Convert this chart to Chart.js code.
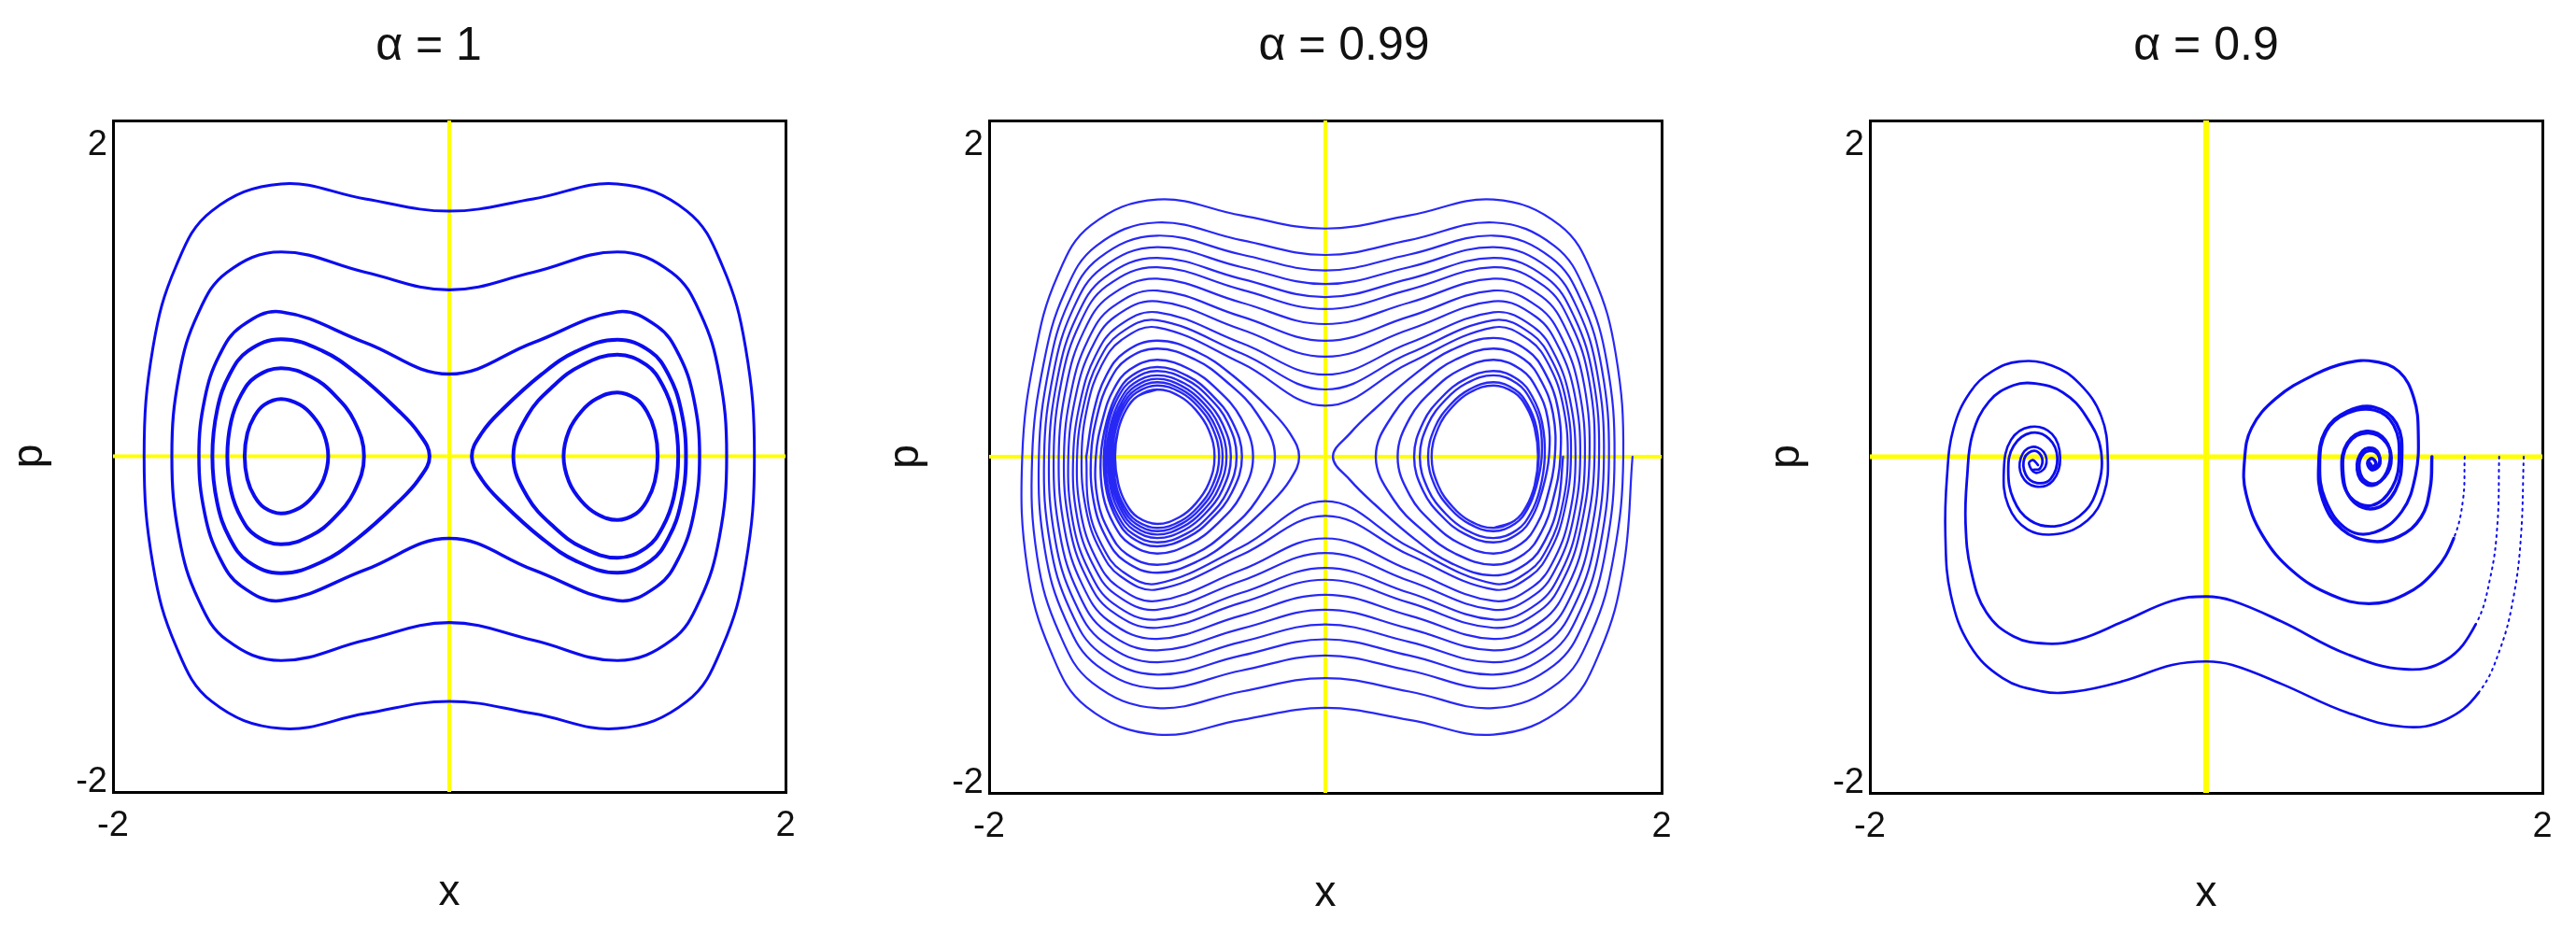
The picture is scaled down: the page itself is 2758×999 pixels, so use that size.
<!DOCTYPE html>
<html>
<head>
<meta charset="utf-8">
<script src="https://cdn.jsdelivr.net/npm/chart.js@4.4.0/dist/chart.umd.min.js"></script>
<style>
html,body{margin:0;padding:0;background:#fff;overflow:hidden;width:2758px;height:999px;}
canvas{position:absolute;top:0;}
</style>
</head>
<body>
<canvas id="c1" width="913" height="999" style="left:0px"></canvas>
<canvas id="c2" width="1015" height="999" style="left:920px"></canvas>
<canvas id="c3" width="872" height="999" style="left:1886px"></canvas>
<script>
// ---------------- data ----------------
const panelTitles = ['α = 1', 'α = 0.99', 'α = 0.9'];
const xAxisLabel = 'x';
const yAxisLabel = 'p';
const xTickValues = [-2, 2];
const xTickText = ['-2', '2'];
const yTickValues = [-1.94, 1.85];
const yTickText = ['-2', '2'];
const zeroLineX = [[0, -2], [0, 2]];
const zeroLineP = [[-2, 0], [2, 0]];

// alpha = 1 : closed orbits (x, p)
const a1_outer1 = [[0,1.46],[0.5,1.533],[1,1.622],[1.414,1.46],[1.624,1.135],[1.762,0.649],[1.815,0],[1.762,-0.649],[1.624,-1.135],[1.414,-1.46],[1,-1.622],[0.5,-1.533],[0,-1.46],[-0.5,-1.533],[-1,-1.622],[-1.414,-1.46],[-1.624,-1.135],[-1.762,-0.649],[-1.815,0],[-1.762,0.649],[-1.624,1.135],[-1.414,1.46],[-1,1.622],[-0.5,1.533]];
const a1_outer2 = [[0,0.991],[0.5,1.096],[1,1.217],[1.323,1.095],[1.493,0.852],[1.606,0.487],[1.65,0],[1.606,-0.487],[1.493,-0.852],[1.323,-1.095],[1,-1.217],[0.5,-1.096],[0,-0.991],[-0.5,-1.096],[-1,-1.217],[-1.323,-1.095],[-1.493,-0.852],[-1.606,-0.487],[-1.65,0],[-1.606,0.487],[-1.493,0.852],[-1.323,1.095],[-1,1.217],[-0.5,1.096]];
const a1_outer3 = [[0,0.49],[0.5,0.677],[1,0.86],[1.237,0.774],[1.367,0.602],[1.454,0.344],[1.489,0],[1.454,-0.344],[1.367,-0.602],[1.237,-0.774],[1,-0.86],[0.5,-0.677],[0,-0.49],[-0.5,-0.677],[-1,-0.86],[-1.237,-0.774],[-1.367,-0.602],[-1.454,-0.344],[-1.489,0],[-1.454,0.344],[-1.367,0.602],[-1.237,0.774],[-1,0.86],[-0.5,0.677]];
const a1_left1 = [[-1,0.697],[-0.755,0.628],[-0.544,0.488],[-0.31,0.279],[-0.183,0.14],[-0.117,0],[-0.183,-0.14],[-0.31,-0.279],[-0.544,-0.488],[-0.755,-0.628],[-1,-0.697],[-1.196,-0.628],[-1.306,-0.488],[-1.38,-0.279],[-1.409,0],[-1.38,0.279],[-1.306,0.488],[-1.196,0.628]];
const a1_left2 = [[-1,0.525],[-0.822,0.473],[-0.685,0.368],[-0.565,0.21],[-0.507,0],[-0.565,-0.21],[-0.685,-0.368],[-0.822,-0.473],[-1,-0.525],[-1.151,-0.473],[-1.237,-0.368],[-1.297,-0.21],[-1.32,0],[-1.297,0.21],[-1.237,0.368],[-1.151,0.473]];
const a1_left3 = [[-1,0.341],[-0.889,0.307],[-0.81,0.238],[-0.747,0.136],[-0.72,0],[-0.747,-0.136],[-0.81,-0.238],[-0.889,-0.307],[-1,-0.341],[-1.1,-0.307],[-1.159,-0.238],[-1.201,-0.136],[-1.217,0],[-1.201,0.136],[-1.159,0.238],[-1.1,0.307]];
const a1_right1 = [[1,0.694],[1.195,0.625],[1.304,0.486],[1.378,0.278],[1.408,0],[1.378,-0.278],[1.304,-0.486],[1.195,-0.625],[1,-0.694],[0.756,-0.625],[0.547,-0.486],[0.316,-0.278],[0.194,-0.139],[0.134,0],[0.194,0.139],[0.316,0.278],[0.547,0.486],[0.756,0.625]];
const a1_right2 = [[1,0.605],[1.172,0.544],[1.269,0.423],[1.336,0.242],[1.362,0],[1.336,-0.242],[1.269,-0.423],[1.172,-0.544],[1,-0.605],[0.792,-0.544],[0.624,-0.423],[0.465,-0.242],[0.381,0],[0.465,0.242],[0.624,0.423],[0.792,0.544]];
const a1_right3 = [[1,0.38],[1.111,0.342],[1.176,0.266],[1.222,0.152],[1.24,0],[1.222,-0.152],[1.176,-0.266],[1.111,-0.342],[1,-0.38],[0.875,-0.342],[0.785,-0.266],[0.712,-0.152],[0.68,0],[0.712,0.152],[0.785,0.266],[0.875,0.342]];

// alpha = 0.99 : slowly decaying trajectories
const a099_outer = [[1.827,0],
[1.773,-0.661],[1.634,-1.157],[1.421,-1.488],[1,-1.653],[0.5,-1.566],[0,-1.494],[-0.5,-1.566],[-1,-1.653],[-1.421,-1.488],[-1.634,-1.157],[-1.773,-0.661],[-1.803,0],
[-1.727,0.612],[-1.595,1.071],[-1.394,1.377],[-1,1.53],[-0.5,1.435],[0,1.357],[0.5,1.435],[1,1.53],[1.394,1.377],[1.595,1.071],[1.727,0.612],[1.772,0],
[1.714,-0.598],[1.584,-1.046],[1.386,-1.345],[1,-1.495],[0.5,-1.397],[0,-1.317],[-0.5,-1.397],[-1,-1.495],[-1.386,-1.345],[-1.584,-1.046],[-1.714,-0.598],[-1.744,0],
[-1.675,0.557],[-1.551,0.975],[-1.363,1.254],[-1,1.393],[-0.5,1.288],[0,1.2],[0.5,1.288],[1,1.393],[1.363,1.254],[1.551,0.975],[1.675,0.557],[1.72,0],
[1.669,-0.551],[1.547,-0.965],[1.36,-1.241],[1,-1.378],[0.5,-1.272],[0,-1.183],[-0.5,-1.272],[-1,-1.378],[-1.36,-1.241],[-1.547,-0.965],[-1.669,-0.551],[-1.704,0],
[-1.644,0.526],[-1.526,0.92],[-1.345,1.183],[-1,1.315],[-0.5,1.203],[0,1.108],[0.5,1.203],[1,1.315],[1.345,1.183],[1.526,0.92],[1.644,0.526],[1.687,0],
[1.637,-0.518],[1.52,-0.907],[1.341,-1.167],[1,-1.296],[0.5,-1.183],[0,-1.086],[-0.5,-1.183],[-1,-1.296],[-1.341,-1.167],[-1.52,-0.907],[-1.637,-0.518],[-1.673,0],
[-1.617,0.499],[-1.503,0.873],[-1.33,1.122],[-1,1.247],[-0.5,1.128],[0,1.027],[0.5,1.128],[1,1.247],[1.33,1.122],[1.503,0.873],[1.617,0.499],[1.657,0],
[1.608,-0.489],[1.495,-0.856],[1.324,-1.101],[1,-1.223],[0.5,-1.102],[0,-0.998],[-0.5,-1.102],[-1,-1.223],[-1.324,-1.101],[-1.495,-0.856],[-1.608,-0.489],[-1.644,0],
[-1.592,0.473],[-1.482,0.828],[-1.315,1.065],[-1,1.183],[-0.5,1.058],[0,0.949],[0.5,1.058],[1,1.183],[1.315,1.065],[1.482,0.828],[1.592,0.473],[1.628,0],
[1.579,-0.461],[1.471,-0.807],[1.308,-1.037],[1,-1.152],[0.5,-1.023],[0,-0.91],[-0.5,-1.023],[-1,-1.152],[-1.308,-1.037],[-1.471,-0.807],[-1.579,-0.461],[-1.616,0],
[-1.569,0.451],[-1.462,0.789],[-1.302,1.014],[-1,1.127],[-0.5,0.994],[0,0.878],[0.5,0.994],[1,1.127],[1.302,1.014],[1.462,0.789],[1.569,0.451],[1.601,0],
[1.551,-0.433],[1.447,-0.759],[1.291,-0.975],[1,-1.084],[0.5,-0.945],[0,-0.821],[-0.5,-0.945],[-1,-1.084],[-1.291,-0.975],[-1.447,-0.759],[-1.551,-0.433],[-1.586,0],
[-1.54,0.424],[-1.439,0.741],[-1.286,0.953],[-1,1.059],[-0.5,0.917],[0,0.789],[0.5,0.917],[1,1.059],[1.286,0.953],[1.439,0.741],[1.54,0.424],[1.571,0],
[1.523,-0.407],[1.424,-0.713],[1.276,-0.916],[1,-1.018],[0.5,-0.869],[0,-0.732],[-0.5,-0.869],[-1,-1.018],[-1.276,-0.916],[-1.424,-0.713],[-1.523,-0.407],[-1.555,0],
[-1.51,0.395],[-1.413,0.692],[-1.268,0.889],[-1,0.988],[-0.5,0.834],[0,0.69],[0.5,0.834],[1,0.988],[1.268,0.889],[1.413,0.692],[1.51,0.395],[1.544,0],
[1.502,-0.387],[1.406,-0.678],[1.264,-0.872],[1,-0.969],[0.5,-0.81],[0,-0.662],[-0.5,-0.81],[-1,-0.969],[-1.264,-0.872],[-1.406,-0.678],[-1.502,-0.387],[-1.529,0],
[-1.483,0.37],[-1.39,0.647],[-1.253,0.832],[-1,0.924],[-0.5,0.757],[0,0.595],[0.5,0.757],[1,0.924],[1.253,0.832],[1.39,0.647],[1.483,0.37],[1.516,0],
[1.476,-0.364],[1.385,-0.637],[1.249,-0.819],[1,-0.91],[0.5,-0.739],[0,-0.573],[-0.5,-0.739],[-1,-0.91],[-1.249,-0.819],[-1.385,-0.637],[-1.476,-0.364],[-1.5,0],
[-1.454,0.344],[-1.367,0.601],[-1.237,0.773],[-1,0.859],[-0.5,0.676],[0,0.488],[0.5,0.676],[1,0.859],[1.237,0.773],[1.367,0.601],[1.454,0.344],[1.488,0],
[1.453,-0.343],[1.366,-0.601],[1.237,-0.772],[1,-0.858],[0.5,-0.674],[0,-0.486],[-0.5,-0.674],[-1,-0.858],[-1.237,-0.772],[-1.366,-0.601],[-1.453,-0.343],[-1.477,0],
[-1.433,0.325],[-1.349,0.569],[-1.225,0.731],[-1,0.812],[-0.5,0.615],[0,0.4],[0.5,0.615],[1,0.812],[1.225,0.731],[1.349,0.569],[1.433,0.325],[1.461,0],
[1.423,-0.316],[1.341,-0.553],[1.219,-0.711],[1,-0.79],[0.5,-0.585],[0,-0.352],[-0.5,-0.585],[-1,-0.79],[-1.219,-0.711],[-1.341,-0.553],[-1.423,-0.316],[-1.45,0],
[-1.413,0.308],[-1.333,0.539],[-1.214,0.693],[-1,0.769],[-0.5,0.557],[0,0.303],[0.5,0.557],[1,0.769],[1.214,0.693],[1.333,0.539],[1.413,0.308],[1.442,0],
[1.407,-0.302],[1.328,-0.529],[1.211,-0.68],[1,-0.755],[0.5,-0.537],[0,-0.265],[-0.5,-0.537],[-1,-0.755],[-1.211,-0.68],[-1.328,-0.529],[-1.407,-0.302],[-1.422,0]];
const a099_left = [[-1.422,0],
[-1.376,0.276],[-1.303,0.483],[-1.194,0.621],[-1,0.69],[-0.758,0.621],[-0.551,0.483],[-0.325,0.276],[-0.21,0.138],[-0.156,0],[-0.21,-0.138],[-0.325,-0.276],[-0.551,-0.483],[-0.758,-0.621],[-1,-0.69],[-1.194,-0.621],[-1.303,-0.483],[-1.376,-0.276],[-1.394,0],
[-1.354,0.257],[-1.284,0.45],[-1.182,0.579],[-1,0.643],[-0.777,0.579],[-0.592,0.45],[-0.407,0.257],[-0.3,0],[-0.407,-0.257],[-0.592,-0.45],[-0.777,-0.579],[-1,-0.643],[-1.182,-0.579],[-1.284,-0.45],[-1.354,-0.257],[-1.365,0],
[-1.322,0.231],[-1.258,0.403],[-1.164,0.518],[-1,0.576],[-0.803,0.518],[-0.647,0.403],[-0.503,0.231],[-0.43,0],[-0.503,-0.231],[-0.647,-0.403],[-0.803,-0.518],[-1,-0.576],[-1.164,-0.518],[-1.258,-0.403],[-1.322,-0.231],[-1.336,0],
[-1.3,0.213],[-1.24,0.373],[-1.153,0.48],[-1,0.533],[-0.819,0.48],[-0.68,0.373],[-0.556,0.213],[-0.496,0],[-0.556,-0.213],[-0.68,-0.373],[-0.819,-0.48],[-1,-0.533],[-1.153,-0.48],[-1.24,-0.373],[-1.3,-0.213],[-1.318,0],
[-1.289,0.204],[-1.231,0.357],[-1.146,0.459],[-1,0.51],[-0.828,0.459],[-0.696,0.357],[-0.582,0.204],[-0.528,0],[-0.582,-0.204],[-0.696,-0.357],[-0.828,-0.459],[-1,-0.51],[-1.146,-0.459],[-1.231,-0.357],[-1.289,-0.204],[-1.305,0],
[-1.276,0.194],[-1.22,0.339],[-1.139,0.436],[-1,0.484],[-0.838,0.436],[-0.715,0.339],[-0.611,0.194],[-0.562,0],[-0.611,-0.194],[-0.715,-0.339],[-0.838,-0.436],[-1,-0.484],[-1.139,-0.436],[-1.22,-0.339],[-1.276,-0.194],[-1.292,0],
[-1.265,0.185],[-1.211,0.324],[-1.134,0.416],[-1,0.463],[-0.846,0.416],[-0.73,0.324],[-0.633,0.185],[-0.588,0],[-0.633,-0.185],[-0.73,-0.324],[-0.846,-0.416],[-1,-0.463],[-1.134,-0.416],[-1.211,-0.324],[-1.265,-0.185],[-1.281,0],
[-1.255,0.177],[-1.203,0.31],[-1.128,0.398],[-1,0.443],[-0.853,0.398],[-0.744,0.31],[-0.653,0.177],[-0.611,0],[-0.653,-0.177],[-0.744,-0.31],[-0.853,-0.398],[-1,-0.443],[-1.128,-0.398],[-1.203,-0.31],[-1.255,-0.177],[-1.27,0],
[-1.245,0.17],[-1.195,0.297],[-1.123,0.382],[-1,0.424],[-0.859,0.382],[-0.756,0.297],[-0.671,0.17],[-0.632,0],[-0.671,-0.17],[-0.756,-0.297],[-0.859,-0.382],[-1,-0.424],[-1.123,-0.382],[-1.195,-0.297],[-1.245,-0.17],[-1.258,0],
[-1.232,0.16],[-1.185,0.28],[-1.117,0.36],[-1,0.4],[-0.868,0.36],[-0.772,0.28],[-0.694,0.16],[-0.659,0],[-0.694,-0.16],[-0.772,-0.28],[-0.868,-0.36],[-1,-0.4],[-1.117,-0.36],[-1.185,-0.28],[-1.232,-0.16],[-1.251,0],[-1.232,0.16],[-1.185,0.28],[-1.117,0.36],[-1,0.4]];
const a099_right = [[1.414,0],
[1.384,-0.282],[1.309,-0.494],[1.198,-0.635],[1,-0.706],[0.752,-0.635],[0.536,-0.494],[0.292,-0.282],[0.149,-0.141],[0.045,0],[0.149,0.141],[0.292,0.282],[0.536,0.494],[0.752,0.635],[1,0.706],[1.198,0.635],[1.309,0.494],[1.384,0.282],[1.398,0],
[1.354,-0.257],[1.284,-0.45],[1.182,-0.579],[1,-0.643],[0.777,-0.579],[0.592,-0.45],[0.407,-0.257],[0.3,0],[0.407,0.257],[0.592,0.45],[0.777,0.579],[1,0.643],[1.182,0.579],[1.284,0.45],[1.354,0.257],[1.365,0],
[1.322,-0.231],[1.258,-0.403],[1.164,-0.518],[1,-0.576],[0.803,-0.518],[0.647,-0.403],[0.503,-0.231],[0.43,0],[0.503,0.231],[0.647,0.403],[0.803,0.518],[1,0.576],[1.164,0.518],[1.258,0.403],[1.322,0.231],[1.33,0],
[1.289,-0.204],[1.231,-0.357],[1.146,-0.459],[1,-0.51],[0.828,-0.459],[0.696,-0.357],[0.582,-0.204],[0.528,0],[0.582,0.204],[0.696,0.357],[0.828,0.459],[1,0.51],[1.146,0.459],[1.231,0.357],[1.289,0.204],[1.305,0],
[1.276,-0.194],[1.22,-0.339],[1.139,-0.436],[1,-0.484],[0.838,-0.436],[0.715,-0.339],[0.611,-0.194],[0.562,0],[0.611,0.194],[0.715,0.339],[0.838,0.436],[1,0.484],[1.139,0.436],[1.22,0.339],[1.276,0.194],[1.287,0],
[1.255,-0.177],[1.203,-0.31],[1.128,-0.398],[1,-0.443],[0.853,-0.398],[0.744,-0.31],[0.653,-0.177],[0.611,0],[0.653,0.177],[0.744,0.31],[0.853,0.398],[1,0.443],[1.128,0.398],[1.203,0.31],[1.255,0.177],[1.27,0],
[1.245,-0.17],[1.195,-0.297],[1.123,-0.382],[1,-0.424],[0.859,-0.382],[0.756,-0.297],[0.671,-0.17],[0.632,0],[0.671,0.17],[0.756,0.297],[0.859,0.382],[1,0.424],[1.123,0.382],[1.195,0.297],[1.245,0.17],[1.265,0],[1.245,-0.17],[1.195,-0.297],[1.123,-0.382],[1,-0.424]];

// alpha = 0.9 : strongly decaying trajectories
const a09_t1 = [[1.343,0],[1.333,-0.184],[1.278,-0.361],[1.148,-0.474],[0.985,-0.503],[0.807,-0.432],[0.693,-0.255],[0.67,-0.042],[0.709,0.152],[0.839,0.269],[1.002,0.294],[1.132,0.198],[1.164,0],[1.125,-0.202],[1.002,-0.308],[0.865,-0.255],[0.813,-0.078],[0.846,0.081],[0.963,0.142],[1.073,0.081],[1.099,-0.042],[1.041,-0.142],[0.963,-0.156],[0.911,-0.078],[0.937,0.021],[1.008,0.028],[1.034,-0.042],[0.989,-0.078],[0.96,-0.04],[0.985,-0.01],[1.01,-0.04],[0.99,-0.06],[0.975,-0.04]];
const a09_t2 = [[1.538,0],[1.528,-0.255],[1.473,-0.485],[1.359,-0.68],[1.18,-0.821],[0.969,-0.874],[0.741,-0.821],[0.514,-0.68],[0.335,-0.467],[0.237,-0.219],[0.228,-0.025],[0.27,0.17],[0.416,0.347],[0.644,0.488],[0.839,0.559],[1.002,0.566],[1.148,0.506],[1.236,0.347],[1.262,0.135],[1.245,-0.113],[1.164,-0.326],[1.002,-0.45],[0.839,-0.432],[0.709,-0.255],[0.676,-0.042],[0.715,0.152],[0.839,0.258],[1.002,0.276],[1.115,0.188],[1.148,0],[1.106,-0.184],[0.985,-0.29],[0.855,-0.237],[0.807,-0.078],[0.839,0.081],[0.953,0.152],[1.067,0.099],[1.093,-0.025],[1.034,-0.149],[0.953,-0.166],[0.898,-0.078],[0.93,0.035],[1.002,0.046],[1.034,-0.025],[0.985,-0.078],[0.963,-0.025]];
const a09_t3 = [[1.743,0],[1.733,-0.396],[1.691,-0.715],[1.603,-0.998],[1.424,-1.211],[1.18,-1.264],[0.839,-1.175],[0.449,-0.981],[0.156,-0.857],[0,-0.832],[-0.202,-0.857],[-0.494,-0.981],[-0.754,-1.087],[-0.95,-1.112],[-1.145,-1.069],[-1.307,-0.927],[-1.398,-0.68],[-1.431,-0.396],[-1.421,-0.113],[-1.389,0.135],[-1.291,0.329],[-1.145,0.425],[-1.015,0.435],[-0.852,0.382],[-0.715,0.241],[-0.624,0.028],[-0.657,-0.219],[-0.754,-0.354],[-0.901,-0.414],[-1.047,-0.379],[-1.145,-0.255],[-1.177,-0.078],[-1.145,0.064],[-1.041,0.142],[-0.933,0.106],[-0.885,-0.007],[-0.924,-0.131],[-1.008,-0.156],[-1.073,-0.106],[-1.08,-0.007],[-1.021,0.035],[-0.976,-0.007],[-0.989,-0.071],[-1.031,-0.078]];
const a09_t4 = [[1.889,0],[1.873,-0.467],[1.831,-0.821],[1.75,-1.14],[1.62,-1.405],[1.424,-1.565],[1.18,-1.607],[0.839,-1.522],[0.449,-1.352],[0.156,-1.239],[0,-1.218],[-0.202,-1.239],[-0.494,-1.335],[-0.787,-1.398],[-0.982,-1.395],[-1.21,-1.317],[-1.405,-1.122],[-1.519,-0.821],[-1.551,-0.467],[-1.541,-0.113],[-1.502,0.17],[-1.405,0.382],[-1.275,0.506],[-1.112,0.566],[-0.917,0.542],[-0.754,0.435],[-0.624,0.241],[-0.585,0],[-0.608,-0.219],[-0.706,-0.379],[-0.885,-0.46],[-1.063,-0.432],[-1.177,-0.29],[-1.203,-0.078],[-1.161,0.099],[-1.047,0.177],[-0.917,0.135],[-0.868,-0.007],[-0.911,-0.142],[-1.015,-0.177],[-1.096,-0.113],[-1.102,-0.007],[-1.041,0.057],[-0.966,0.028],[-0.956,-0.06],[-1.015,-0.096],[-1.054,-0.042],[-1.03,-0.02],[-1.0,-0.05]];

// ---------------- drawing ----------------
const FONT = '"Liberation Sans", Arial, Helvetica, sans-serif';
const BLUE = 'rgb(12,12,238)';
const BLUE2 = 'rgb(40,40,245)';
const YELLOW = '#ffff00';
const HIDE = 'rgba(0,0,0,0)';
const toXY = arr => arr.map(([x, y]) => ({x, y}));

function loopSet(arr, color, width) {
  const pts = toXY(arr);
  const n = pts.length;
  const data = [pts[n - 1], ...pts, pts[0], pts[1]];
  const last = data.length - 1;
  return {
    data, showLine: true, borderColor: color, borderWidth: width,
    pointRadius: 0, pointHoverRadius: 0, tension: 0.4, order: 0,
    borderCapStyle: 'round', borderJoinStyle: 'round',
    segment: { borderColor: c => (c.p0DataIndex === 0 || c.p1DataIndex === last) ? HIDE : undefined }
  };
}
function pathSet(arr, color, width, dashUntil) {
  return {
    data: toXY(arr), showLine: true, borderColor: color, borderWidth: width,
    pointRadius: 0, pointHoverRadius: 0, tension: 0.4, order: 0,
    borderCapStyle: 'round', borderJoinStyle: 'round',
    segment: {
      borderDash: c => (c.p1DataIndex <= dashUntil) ? [2, 5] : undefined,
      borderWidth: c => (c.p1DataIndex <= dashUntil) ? 2 : undefined
    }
  };
}
function axisLine(arr, width) {
  return { data: toXY(arr), showLine: true, borderColor: YELLOW, borderWidth: width,
    pointRadius: 0, pointHoverRadius: 0, tension: 0, order: 1 };
}
const font = (s, w) => ({ family: FONT, size: s, weight: w || 'normal' });

function makeOptions(o) {
  const frame = (pos, fit) => ({
    type: 'linear', position: pos, min: -2, max: 2, display: true,
    grid: { display: false, drawTicks: false, tickLength: 0, lineWidth: 3 },
    border: { display: true, color: '#000', width: 3 },
    ticks: { display: false },
    afterFit: fit
  });
  return {
    responsive: false, maintainAspectRatio: false, animation: false, devicePixelRatio: 1, events: [],
    layout: { padding: { left: o.pl, right: 0, top: 0, bottom: o.pb } },
    plugins: {
      legend: { display: false }, tooltip: { enabled: false },
      title: { display: true, text: o.title, fullSize: o.fullSize, color: '#111', font: font(50, 'normal'),
               padding: { top: 20, bottom: 10 } }
    },
    scales: {
      x: {
        type: 'linear', position: 'bottom', min: -2, max: 2,
        grid: { display: false, drawTicks: false, tickLength: 0, lineWidth: 3 },
        border: { display: true, color: '#000', width: 3 },
        ticks: { color: '#111', font: font(38), padding: 14, maxRotation: 0, autoSkip: false,
                 callback: (v, i) => xTickText[i] },
        afterBuildTicks: s => { s.ticks = xTickValues.map(v => ({ value: v })); },
        title: { display: true, text: xAxisLabel, color: '#111', font: font(46), padding: { top: 0, bottom: 4 } },
        afterFit: s => { s.height = 140; }
      },
      y: {
        type: 'linear', position: 'left', min: -2, max: 2,
        grid: { display: false, drawTicks: false, tickLength: 0, lineWidth: 3 },
        border: { display: true, color: '#000', width: 3 },
        ticks: { color: '#111', font: font(38), padding: 6, autoSkip: false,
                 callback: (v, i) => yTickText[i] },
        afterBuildTicks: s => { s.ticks = yTickValues.map(v => ({ value: v })); },
        title: { display: true, text: yAxisLabel, color: '#111', font: font(46), padding: { top: 0, bottom: 0 } },
        afterFit: s => { s.width = 116; }
      },
      x2: frame('top', s => { s.height = 39; }),
      y2: frame('right', s => { s.width = o.rw; })
    }
  };
}

new Chart(document.getElementById('c1'), {
  type: 'scatter',
  data: { datasets: [
    loopSet(a1_outer1, BLUE, 3), loopSet(a1_outer2, BLUE, 3.2), loopSet(a1_outer3, BLUE, 3.5),
    loopSet(a1_left1, BLUE, 4), loopSet(a1_left2, BLUE, 4), loopSet(a1_left3, BLUE, 4),
    loopSet(a1_right1, BLUE, 4), loopSet(a1_right2, BLUE, 4), loopSet(a1_right3, BLUE, 4),
    axisLine(zeroLineX, 4), axisLine(zeroLineP, 4)
  ]},
  options: makeOptions({ title: panelTitles[0], pl: 5, pb: 11, rw: 72, fullSize: true })
});

new Chart(document.getElementById('c2'), {
  type: 'scatter',
  data: { datasets: [
    pathSet(a099_outer, BLUE2, 2.2, 0), pathSet(a099_left, BLUE2, 2.4, 0), pathSet(a099_right, BLUE2, 2.4, 0),
    axisLine(zeroLineX, 4), axisLine(zeroLineP, 4)
  ]},
  options: makeOptions({ title: panelTitles[1], pl: 23, pb: 10, rw: 156, fullSize: true })
});

new Chart(document.getElementById('c3'), {
  type: 'scatter',
  data: { datasets: [
    pathSet(a09_t1, BLUE, 3.5, 0), pathSet(a09_t2, BLUE, 3.2, 2),
    pathSet(a09_t3, BLUE, 2.8, 3), pathSet(a09_t4, BLUE, 2.6, 4),
    axisLine(zeroLineX, 6), axisLine(zeroLineP, 5)
  ]},
  options: makeOptions({ title: panelTitles[2], pl: 0, pb: 10, rw: 36, fullSize: false })
});
</script>
</body>
</html>
